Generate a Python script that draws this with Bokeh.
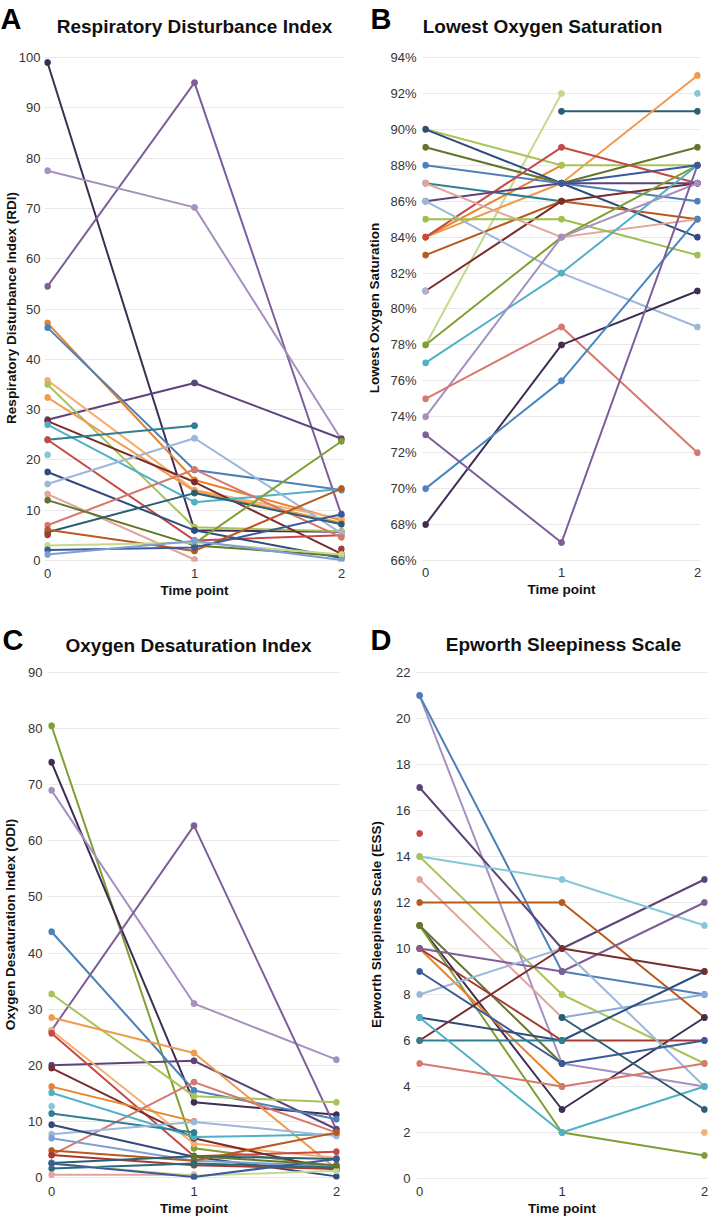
import math
from bokeh.plotting import figure
from bokeh.layouts import row, column
from bokeh.models import Range1d, FixedTicker, PrintfTickFormatter
from bokeh.core.properties import value
from bokeh.embed import file_html
from bokeh.resources import INLINE

nan = float("nan")
time_points = [0, 1, 2]

# ---------------- colours (per series, by name) ----------------
PAL = {
    "dark": "#3f2d54", "purple": "#7d5e9a", "lavender": "#a690bf", "dpurple": "#5c4378",
    "orange": "#e8832a", "lorange": "#f4b070", "lorange2": "#f09a4c",
    "blue": "#4c80b8", "blue2": "#4a86c0", "lblue": "#9db6da", "lblue2": "#8aaad8",
    "periwinkle": "#7f9fd4", "perilight": "#a9b3dc",
    "teal": "#2f7f91", "teal2": "#2a6a7a", "cyan": "#4fb0c6", "lcyan": "#86c6db",
    "red": "#c44a48", "salmon": "#d7786f", "pink": "#e2a49b", "mred": "#a33a32",
    "olive": "#7f9f35", "lgreen": "#a9c35b", "lgreen2": "#9cbf4e", "dolive": "#62772b",
    "ygreen": "#c5d88e", "brown": "#b85a1f", "dred": "#7b2c2c",
    "navy": "#2f4c7c", "navy2": "#3b5a9a", "dteal": "#2a5f73",
}

# ---------------- panel letters and titles ----------------
panel_letters = ["A", "B", "C", "D"]
panel_titles = ["Respiratory Disturbance Index", "Lowest Oxygen Saturation",
                "Oxygen Desaturation Index", "Epworth Sleepiness Scale"]
panel_ylabels = ["Respiratory Disturbance Index (RDI)", "Lowest Oxygen Saturation",
                 "Oxygen Desaturation Index (ODI)", "Epworth Sleepiness Scale (ESS)"]
x_label = "Time point"

# ---------------- A: Respiratory Disturbance Index ----------------
rdi_colors = ["dark", "purple", "lavender", "dpurple", "orange", "blue", "lorange", "lgreen",
              "lorange2", "dred", "cyan", "teal", "red", "lcyan", "navy", "lblue", "salmon",
              "pink", "dolive", "dteal", "brown", "mred", "olive", "ygreen", "navy2", "periwinkle"]
rdi_t0 = [99, 54.5, 77.5, 28, 47.2, 46.3, 35.8, 35, 32.4, 27.7, 27, 24, 24, 21, 17.6, 15.2, 7,
          13.2, 12, 5.6, 6.1, 5.1, nan, 3, 2.1, 1.2]
rdi_t1 = [6, 95, 70.2, 35.3, 16, 18, 14, 6.6, 13.8, 15.6, 11.6, 26.8, 4, nan, 6, 24.3, 18.1,
          0.2, 3, 13.4, 1.9, nan, 3.4, 3.6, 2.6, 3.9]
rdi_t2 = [5.7, 9, 24, 24.2, 8, 14, 8.3, 5.8, 7.5, 1.3, 14.2, nan, 5, nan, 0.5, 5.4, 4.6,
          nan, 0.9, 7.2, 14.3, 2.3, 23.7, 1.2, 9.2, 0.1]

# ---------------- B: Lowest Oxygen Saturation (%) ----------------
sat_colors = ["ygreen", "dteal", "lorange2", "orange", "lcyan", "lgreen", "navy", "dolive", "blue",
              "red", "teal", "brown", "dred", "dpurple", "pink", "lblue", "lgreen2", "olive",
              "cyan", "lavender", "salmon", "dark", "blue2", "purple", "perilight", "navy2"]
sat_t0 = [78, nan, 84, 84, nan, 90, 90, 89, 88, 84, 87, 83, 81, 86, 87, 86, 85, 78, 77, 74, 75,
          68, 70, 73, 81, nan]
sat_t1 = [92, 91, 87, 88, nan, 88, 87, 87, 87, 89, 86, 86, 86, 87, 84, 82, 85, 84, 82, 84, 79,
          78, 76, 67, nan, 87]
sat_t2 = [nan, 91, 93, nan, 92, 88, 84, 89, 86, 87, nan, 85, 87, 87, 85, 79, 83, 88, 88, 87, 72,
          81, 85, 88, nan, 88]

# ---------------- C: Oxygen Desaturation Index ----------------
odi_colors = ["olive", "dark", "lavender", "purple", "dpurple", "blue", "lgreen", "lorange2",
              "lorange", "red", "dred", "orange", "salmon", "cyan", "lcyan", "teal", "lblue",
              "navy", "periwinkle", "brown", "mred", "dteal", "teal2", "pink", "ygreen", "navy2",
              "dolive"]
odi_t0 = [80.5, 74, 69, 26.2, 20, 43.8, 32.7, 28.5, 26.2, 25.7, 19.5, 16.2, 4, 15.1, 12.7, 11.4,
          7.7, 9.4, 7, 4.8, 4, 2.6, 1.6, 0.5, 2.5, 2.5, nan]
odi_t1 = [5.2, 13.4, 31, 62.7, 20.8, 15.5, 14.5, 22.2, 6, 3.8, 7, 10, 17, 7.2, nan, 8, 9.9, 3.7,
          3, 3, 2.2, 3.8, 2.5, 0.5, 0.3, 0.1, 3.8]
odi_t2 = [2, 11.2, 21, 8.5, 8.6, 10.4, 13.4, 1.5, 3.5, 4.6, 1.3, nan, 8, 7.7, nan, nan, 7.4, 0.2,
          2, 8, 1.5, 3.3, 1.8, nan, 1.2, 3.3, 2.2]

# ---------------- D: Epworth Sleepiness Scale ----------------
ess_colors = ["lavender", "blue", "dpurple", "red", "lcyan", "lgreen", "pink", "lblue2", "brown",
              "dark", "olive", "dolive", "orange", "lorange", "mred", "purple", "lblue", "navy2",
              "navy", "dred", "teal", "cyan", "salmon", "dteal"]
ess_t0 = [21, 21, 17, 15, 14, 14, 13, nan, 12, 11, 11, 11, 10, 10, 10, 10, 8, 9, 7, 6, 6, 7, 5, nan]
ess_t1 = [5, 9, 10, nan, 13, 8, 7, 7, 12, 3, 2, 5, 4, nan, 6, 9, 10, 5, 6, 10, 6, 2, 4, 7]
ess_t2 = [4, 8, 13, nan, 11, 5, nan, 8, 7, 7, 1, nan, nan, 2, 6, 12, 4, 6, 9, 9, nan, 4, 5, 3]

FONT = "Liberation Sans"
W_TOTAL = 717


def header(height, letters, letter_pos, titles, title_pos):
    """Strip above a row of panels holding the panel letters and chart titles."""
    h = figure(width=W_TOTAL, height=height, x_range=Range1d(0, W_TOTAL),
               y_range=Range1d(height, 0), output_backend="svg", toolbar_location=None,
               x_axis_type=None, y_axis_type=None, min_border=0)
    h.outline_line_color = None
    h.title.visible = False
    h.title.standoff = 0
    h.text(x=[p[0] for p in letter_pos], y=[p[1] for p in letter_pos], text=letters,
           text_font=value(FONT), text_font_size=value("29px"), text_font_style="bold",
           text_color="#000000", text_align="left", text_baseline="middle")
    h.text(x=[p[0] for p in title_pos], y=[p[1] for p in title_pos], text=titles,
           text_font=value(FONT), text_font_size=value("19px"), text_font_style="bold",
           text_color="#111111", text_align="center", text_baseline="middle")
    return h


def make_panel(t0, t1, t2, colors, origin, size, frame, xpix, ypix, yvals, yticks, ylabel,
               ytick_standoff, ylabel_standoff, fmt=None, xtick_standoff=5, xlabel_standoff=3):
    ox, oy = origin
    W, H = size
    fl, ft, fr, fb = frame
    x0p, x2p = xpix
    ytp, ybp = ypix
    vt, vb = yvals
    sx = (x2p - x0p) / 2.0
    xr = Range1d(0 - (x0p - fl) / sx, 2 + (fr - x2p) / sx)
    sy = (ybp - ytp) / (vt - vb)
    yr = Range1d(vb - (fb - ybp) / sy, vt + (ytp - ft) / sy)

    p = figure(width=W, height=H, x_range=xr, y_range=yr, output_backend="svg",
               toolbar_location=None, min_border_left=fl - ox, min_border_right=ox + W - fr,
               min_border_top=ft - oy, min_border_bottom=oy + H - fb)
    p.title.visible = False
    p.title.standoff = 0
    p.outline_line_color = None
    p.background_fill_color = "white"
    p.border_fill_color = "white"
    p.xgrid.grid_line_color = None
    p.ygrid.grid_line_color = "#e8e8e8"
    p.ygrid.grid_line_width = 1

    for ax in (p.xaxis[0], p.yaxis[0]):
        ax.axis_line_color = None
        ax.major_tick_line_color = None
        ax.minor_tick_line_color = None
        ax.major_tick_out = 0
        ax.major_tick_in = 0
        ax.minor_tick_out = 0
        ax.minor_tick_in = 0
        ax.major_label_text_font = FONT
        ax.major_label_text_font_size = "13px"
        ax.major_label_text_color = "#333333"
        ax.axis_label_text_font = FONT
        ax.axis_label_text_font_size = "13.5px"
        ax.axis_label_text_font_style = "bold"
        ax.axis_label_text_color = "#111111"

    p.xaxis.ticker = FixedTicker(ticks=time_points)
    p.xaxis.major_label_standoff = xtick_standoff
    p.xaxis.axis_label = x_label
    p.xaxis.axis_label_standoff = xlabel_standoff

    p.yaxis.ticker = FixedTicker(ticks=yticks)
    p.yaxis.major_label_standoff = ytick_standoff
    p.yaxis.axis_label = ylabel
    p.yaxis.axis_label_standoff = ylabel_standoff
    if fmt is not None:
        p.yaxis.formatter = PrintfTickFormatter(format=fmt)

    for a, b, c, cname in zip(t0, t1, t2, colors):
        col = PAL[cname]
        ys = [a, b, c]
        p.line(time_points, ys, line_color=col, line_width=2)
        p.scatter(time_points, ys, size=6, fill_color=col, line_color=col)
    return p


HEAD1 = 48
HEAD2 = 60
ROW1_TOP = HEAD1
ROW2_TOP = 600 + HEAD2

h1 = header(HEAD1, panel_letters[:2], [(0, 18), (370, 18)],
            panel_titles[:2], [(194, 26), (542, 26)])
h2 = header(HEAD2, panel_letters[2:], [(2, 39.5), (370, 39.5)],
            panel_titles[2:], [(188, 45), (563, 43.5)])

pA = make_panel(rdi_t0, rdi_t1, rdi_t2, rdi_colors, origin=(0, ROW1_TOP), size=(358, 600 - HEAD1),
                frame=(44, 54, 344, 561), xpix=(47, 341), ypix=(57, 560), yvals=(100, 0),
                yticks=list(range(0, 101, 10)), ylabel=panel_ylabels[0],
                ytick_standoff=4, ylabel_standoff=-3, xtick_standoff=7, xlabel_standoff=2)

pB = make_panel(sat_t0, sat_t1, sat_t2, sat_colors, origin=(358, ROW1_TOP), size=(359, 600 - HEAD1),
                frame=(422, 51, 700, 562), xpix=(425, 697), ypix=(54, 561), yvals=(94, 66),
                yticks=list(range(66, 95, 2)), ylabel=panel_ylabels[1],
                ytick_standoff=6, ylabel_standoff=5, fmt="%d%%", xtick_standoff=6,
                xlabel_standoff=2)

pC = make_panel(odi_t0, odi_t1, odi_t2, odi_colors, origin=(0, ROW2_TOP), size=(358, 1220 - ROW2_TOP),
                frame=(48, 668, 339, 1179), xpix=(51, 336), ypix=(671, 1177), yvals=(90, 0),
                yticks=list(range(0, 91, 10)), ylabel=panel_ylabels[2],
                ytick_standoff=6, ylabel_standoff=7, xtick_standoff=7, xlabel_standoff=2)

pD = make_panel(ess_t0, ess_t1, ess_t2, ess_colors, origin=(358, ROW2_TOP), size=(359, 1220 - ROW2_TOP),
                frame=(416, 669, 707, 1179), xpix=(419, 704), ypix=(672, 1178), yvals=(22, 0),
                yticks=list(range(0, 23, 2)), ylabel=panel_ylabels[3],
                ytick_standoff=6, ylabel_standoff=9, xtick_standoff=7, xlabel_standoff=2)

layout = column(h1, row(pA, pB, spacing=0), h2, row(pC, pD, spacing=0), spacing=0)
open("out.html", "w").write(file_html(layout, INLINE))
